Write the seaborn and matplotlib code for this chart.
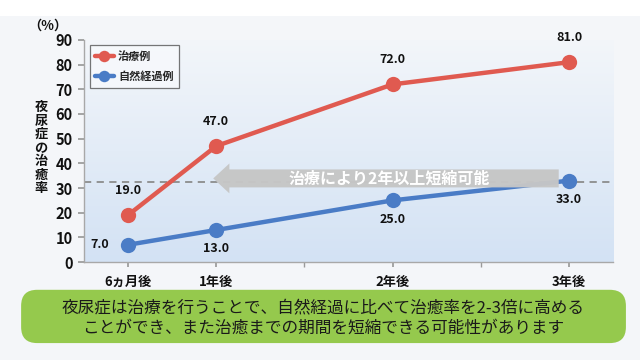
import numpy as np
import pandas as pd
import seaborn as sns
import matplotlib
matplotlib.use("Agg")
import matplotlib.pyplot as plt
from matplotlib.patches import FancyArrow, FancyBboxPatch

# ---- data ----
months = [6, 12, 24, 36]
tick_labels = ["6ヵ月後", "1年後", "2年後", "3年後"]
treated = [19.0, 47.0, 72.0, 81.0]
natural = [7.0, 13.0, 25.0, 33.0]
series_names = ["治療例", "自然経過例"]
ref_level = 32.5
arrow_text = "治療により2年以上短縮可能"
ylabel = "夜尿症の治癒率"
note_lines = ["夜尿症は治療を行うことで、自然経過に比べて治癒率を2-3倍に高める",
              "ことができ、また治癒までの期間を短縮できる可能性があります"]

sns.set_theme(style="white")
plt.rcParams['font.family'] = ['Noto Sans CJK JP', 'DejaVu Sans']

df = pd.DataFrame({
    "month": months * 2,
    "rate": treated + natural,
    "series": [series_names[0]] * 4 + [series_names[1]] * 4,
})

red = "#e05a50"
blue = "#4a7cc6"

fig = plt.figure(figsize=(6.4, 3.6), dpi=100)
fig.patch.set_facecolor("#f4f6f9")
fig.patches.append(plt.Rectangle((0, 0.955), 1, 0.045, transform=fig.transFigure,
                                 facecolor="white", edgecolor="none", zorder=-1))
ax = fig.add_axes([0.131, 0.272, 0.827, 0.617])
ax.set_zorder(2)

# gradient background
grad = np.linspace(0, 1, 256).reshape(-1, 1)
cmap = matplotlib.colors.LinearSegmentedColormap.from_list("bg", ["#d3e2f4", "#f3f6fa"])
ax.imshow(grad, aspect="auto", cmap=cmap, origin="lower",
          extent=[3, 39, 0, 90], zorder=0)

ax.axhline(ref_level, color="#8c8c8c", lw=1.3, ls=(0, (4, 3)), zorder=1)

sns.lineplot(data=df, x="month", y="rate", hue="series", palette=[red, blue],
             marker="o", markersize=11, linewidth=3.2, markeredgewidth=0,
             ax=ax, zorder=3, legend=True)

# arrow
arr = FancyArrow(35.3, 33.9, 11.8 - 35.3, 0, width=7.3, head_width=12.1,
                 head_length=1.1, length_includes_head=True,
                 facecolor="#c6c6c6", edgecolor="none", alpha=0.97, zorder=3.5)
ax.add_patch(arr)
ax.text(23.8, 33.9, arrow_text, color="white", fontsize=11.5, fontweight="bold",
        ha="center", va="center", zorder=4)

# data labels
for m, v in zip(months, treated):
    ax.annotate(f"{v:.1f}", (m, v), xytext=(0, 13), textcoords="offset points",
                ha="center", va="bottom", fontsize=9, fontweight="bold", color="#111111", zorder=5)
for i, (m, v) in enumerate(zip(months, natural)):
    if i == 0:
        ax.annotate(f"{v:.1f}", (m, v), xytext=(-14, 0), textcoords="offset points",
                    ha="right", va="center", fontsize=9, fontweight="bold", color="#111111", zorder=5)
    else:
        ax.annotate(f"{v:.1f}", (m, v), xytext=(0, -9), textcoords="offset points",
                    ha="center", va="top", fontsize=9, fontweight="bold", color="#111111", zorder=5)

ax.set_xlim(3, 39)
ax.set_ylim(0, 90)
ax.set_xticks(months)
ax.set_xticklabels(tick_labels)
ax.set_xticks(np.arange(6, 37, 6), minor=True)
ax.set_yticks(np.arange(0, 91, 10))
ax.tick_params(axis="x", which="both", length=3.5, color="#9a9a9a", direction="out",
               pad=6, labelsize=9.5, bottom=True)
ax.tick_params(axis="y", length=4, color="#9a9a9a", direction="out", pad=4,
               labelsize=10.5, left=True)
for lab in ax.get_xticklabels() + ax.get_yticklabels():
    lab.set_fontweight("bold")
    lab.set_color("#111111")
ax.set_xlabel("")
ax.set_ylabel("")
for s in ["top", "right"]:
    ax.spines[s].set_visible(False)
for s in ["left", "bottom"]:
    ax.spines[s].set_color("#a8a8a8")
    ax.spines[s].set_linewidth(1.0)

leg = ax.legend(loc="upper left", bbox_to_anchor=(0.011, 0.977), frameon=True,
                fancybox=False, fontsize=8, handlelength=1.7, borderpad=0.45,
                labelspacing=0.6, handletextpad=0.4, borderaxespad=0, markerscale=0.75)
leg.get_frame().set_edgecolor("#555555")
leg.get_frame().set_facecolor("#f7f9fc")
leg.get_frame().set_linewidth(0.9)
for t in leg.get_texts():
    t.set_fontweight("bold")

# y label (stacked vertical) and unit
fig.text(0.064, 0.59, "\n".join(ylabel), ha="center", va="center", fontsize=9.5,
         fontweight="bold", linespacing=0.95, color="#111111")
fig.text(0.075, 0.928, "（%）", ha="center", va="center", fontsize=9.5,
         fontweight="bold", color="#111111")

# green note box
box = FancyBboxPatch((0.033, 0.047), 0.945, 0.148, transform=fig.transFigure,
                     boxstyle="round,pad=0.0,rounding_size=0.025",
                     facecolor="#95c94d", edgecolor="none", zorder=1,
                     mutation_aspect=640/360)
fig.patches.append(box)
fig.text(0.505, 0.145, note_lines[0], ha="center", va="center", fontsize=12, color="#1a1a1a")
fig.text(0.505, 0.089, note_lines[1], ha="center", va="center", fontsize=12, color="#1a1a1a")

fig.savefig("out.png", dpi=100, facecolor=fig.get_facecolor())
